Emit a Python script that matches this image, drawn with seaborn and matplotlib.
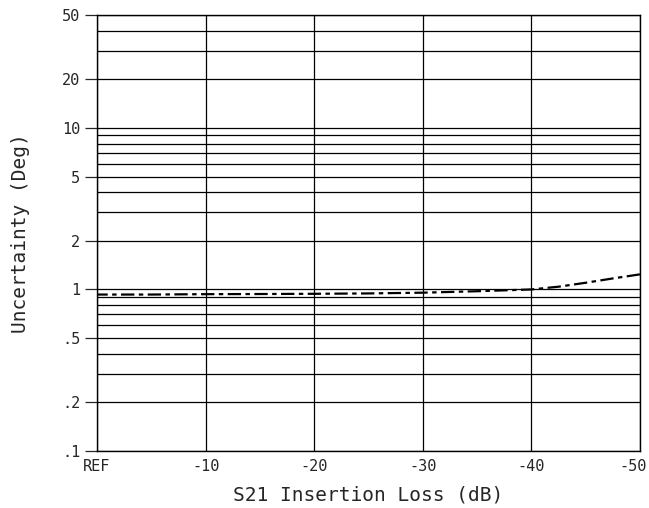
import numpy as np
import pandas as pd
import matplotlib
matplotlib.use("Agg")
import matplotlib.pyplot as plt
import matplotlib.transforms as mtransforms
import seaborn as sns
from matplotlib.ticker import LogLocator, NullFormatter, FixedLocator, FixedFormatter

# Data
loss_db = [0, -5, -10, -15, -20, -25, -30, -35, -40, -42.5, -45, -47.5, -50]
uncertainty_deg = [0.93, 0.93, 0.935, 0.937, 0.94, 0.945, 0.955, 0.975, 1.0, 1.04, 1.1, 1.17, 1.24]

x_ticks = [0, -10, -20, -30, -40, -50]
x_labels = ["REF", "-10", "-20", "-30", "-40", "-50"]
y_ticks = [0.1, 0.2, 0.5, 1, 2, 5, 10, 20, 50]
y_labels = [".1", ".2", ".5", "1", "2", "5", "10", "20", "50"]

df = pd.DataFrame({"loss": loss_db, "unc": uncertainty_deg})

sns.set_style("white")
plt.rcParams["font.family"] = ["DejaVu Sans Mono"]

fig = plt.figure(figsize=(6.49, 5.08), dpi=100)
ax = fig.add_axes([0.1495, 0.1122, 0.8365, 0.8583])

sns.lineplot(data=df, x="loss", y="unc", ax=ax, color="black",
             linewidth=1.6, linestyle=(0, (6, 2, 2, 2)))

ax.set_yscale("log")
ax.set_xlim(0, -50)
ax.set_ylim(0.1, 50)

ax.xaxis.set_major_locator(FixedLocator(x_ticks))
ax.xaxis.set_major_formatter(FixedFormatter(x_labels))
ax.yaxis.set_major_locator(FixedLocator(y_ticks))
ax.yaxis.set_major_formatter(FixedFormatter(y_labels))
ax.yaxis.set_minor_locator(LogLocator(base=10, subs=range(1, 10), numticks=20))
ax.yaxis.set_minor_formatter(NullFormatter())

ax.grid(True, which="both", axis="y", color="black", linewidth=0.9)
ax.grid(True, which="major", axis="x", color="black", linewidth=0.9)

ax.tick_params(axis="y", which="major", length=9, width=0.9, direction="out",
               pad=3, labelsize=11, left=True)
ax.tick_params(axis="y", which="minor", length=0)
ax.tick_params(axis="x", which="major", length=0, pad=6, labelsize=11)

# keep the last x label inside the figure
last = ax.get_xticklabels()[-1]
last.set_horizontalalignment("right")
last.set_transform(last.get_transform() +
                   mtransforms.ScaledTranslation(5 / 72, 0, fig.dpi_scale_trans))

for s in ax.spines.values():
    s.set_color("black")
    s.set_linewidth(1.0)

ax.set_xlabel("S21 Insertion Loss (dB)", fontsize=14, labelpad=8)
ax.set_ylabel("Uncertainty (Deg)", fontsize=14, labelpad=23)

fig.savefig("out.png", dpi=100)
